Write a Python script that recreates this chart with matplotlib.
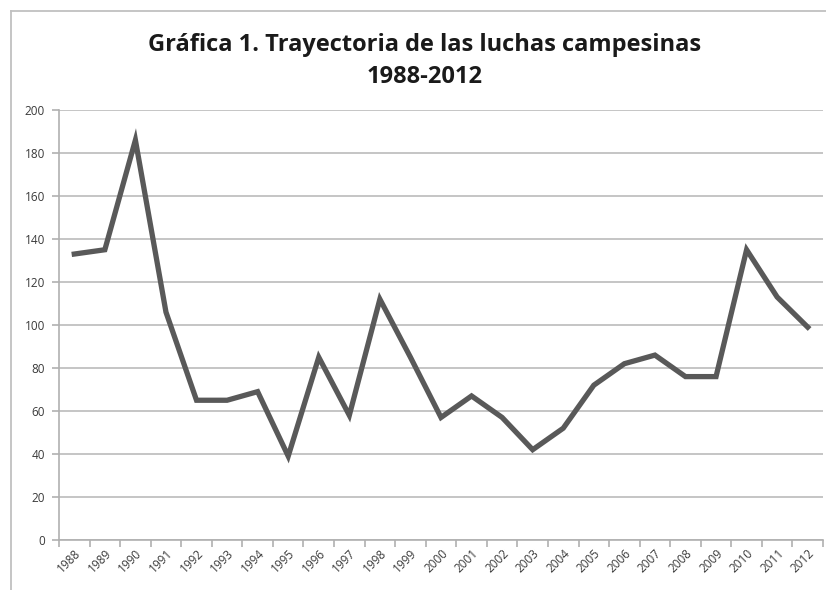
import matplotlib.pyplot as plt
from matplotlib.lines import Line2D

years = [str(y) for y in range(1988, 2013)]
luchas = [133, 135, 186, 106, 65, 65, 69, 39, 85, 58, 112, 85, 57, 67,
          57, 42, 52, 72, 82, 86, 76, 76, 135, 113, 99]
y_ticks = list(range(0, 201, 20))

fig = plt.figure(figsize=(8.26, 5.90), dpi=100)
ax = fig.add_axes([59 / 826, 1 - 540 / 590, 764 / 826, 430 / 590])

x = list(range(len(years)))
ax.plot(x, luchas, color='#595959', linewidth=3.8, solid_joinstyle='miter')

ax.set_xlim(-0.5, len(years) - 0.5)
ax.set_ylim(0, 200)
ax.set_yticks(y_ticks)
ax.set_yticklabels([str(v) for v in y_ticks])
ax.grid(axis='y', color='#c0c0c0', linewidth=1.3)
ax.set_axisbelow(True)

# category ticks sit between the labels, as in the original
ax.set_xticks([i - 0.5 for i in range(len(years) + 1)])
ax.set_xticklabels([])
ax.set_xticks(x, minor=True)
ax.set_xticklabels(years, minor=True, rotation=45, ha='right', va='top',
                   rotation_mode='anchor', fontsize=8.5, family='Open Sans',
                   color='#3a3a3a')
ax.tick_params(axis='x', which='minor', length=0, pad=5)
ax.tick_params(axis='x', which='major', length=5, color='#b0b0b0', width=1.2)
ax.tick_params(axis='y', length=5, color='#b0b0b0', width=1.2, pad=5,
               labelsize=8.5, labelcolor='#3a3a3a')
for lbl in ax.get_yticklabels():
    lbl.set_family('Open Sans')

for side in ['top', 'right']:
    ax.spines[side].set_visible(False)
for side in ['left', 'bottom']:
    ax.spines[side].set_color('#b0b0b0')
    ax.spines[side].set_linewidth(1.2)

fig.text(0.5145, 1 - 45 / 590, 'Gráfica 1. Trayectoria de las luchas campesinas',
         ha='center', va='center', fontsize=17, fontweight='bold',
         family='Open Sans', color='#1a1a1a')
fig.text(0.5145, 1 - 77 / 590, '1988-2012', ha='center', va='center',
         fontsize=17, fontweight='bold', family='Open Sans', color='#1a1a1a')

# chart area border (only the left and top edges are visible)
bx = 11 / 826
by = 1 - 11 / 590
fig.add_artist(Line2D([bx, bx], [0, by], transform=fig.transFigure,
                      color='#c0c0c0', linewidth=1.3))
fig.add_artist(Line2D([bx, 1], [by, by], transform=fig.transFigure,
                      color='#c0c0c0', linewidth=1.3))

fig.savefig('out.png', dpi=100)
